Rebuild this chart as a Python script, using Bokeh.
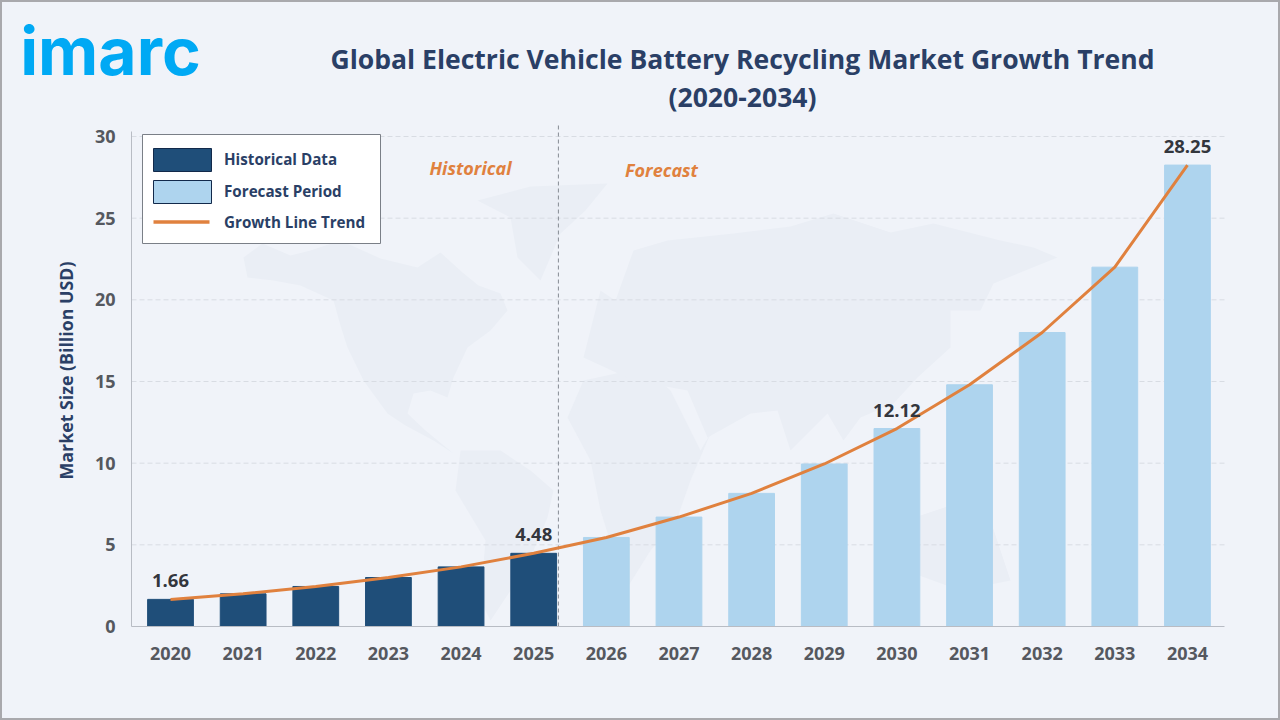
from bokeh.core.properties import value
from bokeh.embed import file_html
from bokeh.resources import INLINE
from bokeh.models import ColumnDataSource, FixedTicker, Label, Range1d
from bokeh.plotting import figure

YEARS = list(range(2020, 2035))
VALUES = [1.66, 2.0, 2.45, 3.0, 3.65, 4.48, 5.45, 6.7, 8.15, 9.95, 12.12, 14.8, 18.0, 22.0, 28.25]
HIST_YEARS = YEARS[:6]
HIST_VALUES = VALUES[:6]
FORE_YEARS = YEARS[6:]
FORE_VALUES = VALUES[6:]
LABEL_YEARS = [2020, 2025, 2030, 2034]
LABEL_VALUES = [1.66, 4.48, 12.12, 28.25]
Y_TICKS = [0, 5, 10, 15, 20, 25, 30]
TITLE_LINES = ["Global Electric Vehicle Battery Recycling Market Growth Trend", "(2020-2034)"]

# faint decorative world map backdrop, outlines sketched in picture pixels
MAP_XS = [
    [243, 262, 290, 310, 340, 380, 417, 440, 462, 478, 500, 507, 490, 467, 453, 447, 430, 413, 407,
     425, 453, 433, 405, 387, 363, 347, 340, 333, 300, 273, 247],
    [477, 530, 607, 585, 560, 540, 517, 510],
    [460, 500, 530, 553, 547, 533, 510, 490, 480, 485, 455],
    [567, 583, 620, 643, 670, 700, 710, 690, 677, 650, 625, 600, 590],
    [583, 600, 615, 633, 667, 733, 790, 833, 890, 933, 1000, 1033, 1057, 993, 980, 950, 950, 917,
     893, 860, 843, 827, 790, 777, 750, 707, 687, 633],
    [905, 950, 990, 1010, 960, 905],
]
MAP_YS = [
    [257, 243, 255, 250, 240, 258, 267, 252, 272, 285, 293, 310, 330, 347, 377, 397, 390, 393, 413,
     430, 453, 440, 425, 413, 380, 347, 325, 300, 285, 280, 277],
    [200, 186, 183, 210, 233, 280, 257, 217],
    [450, 450, 470, 490, 517, 550, 590, 620, 600, 540, 490],
    [417, 380, 372, 367, 390, 450, 433, 480, 517, 550, 590, 510, 460],
    [357, 290, 300, 250, 240, 233, 226, 213, 232, 223, 240, 247, 257, 283, 310, 310, 347, 377,
     403, 417, 440, 413, 450, 410, 413, 437, 390, 380],
    [520, 505, 520, 580, 590, 570],
]

BG = "#f0f3f9"
MAP = "#eaeef5"
DARK = "#1f4e79"
LIGHT = "#aed4ee"
ORANGE = "#e0813e"
NAVY = "#2a3f66"
GREY = "#55585f"
FONT = "Open Sans"

OFF = 2                      # page border width
W, H = 1280 - 2 * OFF, 720 - 2 * OFF
X_2020, PX_PER_YEAR = 170.0, 72.64
Y_ZERO, PX_PER_UNIT = 626.0, 490 / 30


def year_at(px):
    return 2020 + (px - X_2020) / PX_PER_YEAR


def val_at(py):
    return (Y_ZERO - py) / PX_PER_UNIT


def sx(x):
    return x - OFF


def sy(y):
    return 720 - OFF - y


# the frame fills the whole canvas so that annotations in the margins stay visible
p = figure(width=W, height=H, output_backend="svg", toolbar_location=None,
           x_range=Range1d(year_at(OFF), year_at(1280 - OFF)),
           y_range=Range1d(val_at(720 - OFF), val_at(OFF)),
           min_border=0, background_fill_color=BG, border_fill_color=BG, outline_line_color=None)

p.extra_x_ranges["px"] = Range1d(OFF, 1280 - OFF)
p.extra_y_ranges["px"] = Range1d(720 - OFF, OFF)
PX = dict(x_range_name="px", y_range_name="px")
p.patches(MAP_XS, MAP_YS, fill_color=MAP, line_color=None, level="image", **PX)

p.xaxis.ticker = FixedTicker(ticks=YEARS)
p.yaxis.ticker = FixedTicker(ticks=Y_TICKS)
p.xaxis.fixed_location = 0
p.yaxis.fixed_location = year_at(131)
p.xaxis.bounds = (year_at(131), year_at(1224))
p.yaxis.bounds = (0, 30.3)
p.xaxis.major_label_overrides = {y: str(y) for y in YEARS}
p.xaxis.major_label_standoff = 14
p.yaxis.major_label_standoff = 10
for ax in (p.xaxis[0], p.yaxis[0]):
    ax.axis_line_color = "#b8bcc4"
    ax.major_tick_line_color = None
    ax.minor_tick_line_color = None
    ax.major_label_text_font = FONT
    ax.major_label_text_font_style = "bold"
    ax.major_label_text_font_size = "18px"
    ax.major_label_text_color = GREY

# horizontal guides stop at the plot's right edge, so they are drawn as segments
p.grid.visible = False
grid_ticks = Y_TICKS[1:]
p.segment(x0=[year_at(131)] * len(grid_ticks), x1=[year_at(1224)] * len(grid_ticks),
          y0=grid_ticks, y1=grid_ticks, line_color="#d8dce3", line_dash="5 3", line_width=1,
          level="underlay")

hist = ColumnDataSource(dict(x=HIST_YEARS, top=HIST_VALUES))
fore = ColumnDataSource(dict(x=FORE_YEARS, top=FORE_VALUES))
p.vbar(x="x", top="top", bottom=0, width=0.63, color=DARK, source=hist)
p.vbar(x="x", top="top", bottom=0, width=0.63, color=LIGHT, source=fore)

# boundary between history and forecast
p.line(x=[2025.34, 2025.34], y=[0, val_at(122)], line_color="#868b93", line_dash="4 3", line_width=1)

p.line(YEARS, VALUES, line_color=ORANGE, line_width=3)

p.text(LABEL_YEARS, LABEL_VALUES, text=[f"{v:.2f}" for v in LABEL_VALUES],
       text_font=value(FONT), text_font_style="bold", text_font_size="18.5px", text_color="#33363d",
       text_align="center", text_baseline="bottom", y_offset=-12)


def label(cx, cy, text, size, color, font=FONT, style="bold", **kw):
    p.add_layout(Label(x=sx(cx), y=sy(cy), x_units="screen", y_units="screen", text=text,
                       text_font=font, text_font_style=style, text_font_size=size,
                       text_color=color, text_align=kw.pop("align", "center"),
                       text_baseline="middle", **kw))


label(470, 167, "Historical", "18px", ORANGE, style="bold italic")
label(661, 169, "Forecast", "18px", ORANGE, style="bold italic")

# legend block
p.quad(left=[142], right=[380], top=[134], bottom=[243], fill_color="#ffffff",
       line_color="#7a7f87", line_width=1, **PX)
p.quad(left=[153], right=[211], top=[148], bottom=[171], fill_color=DARK,
       line_color="#12294a", line_width=1, **PX)
p.quad(left=[153], right=[211], top=[180], bottom=[203], fill_color=LIGHT,
       line_color="#12294a", line_width=1, **PX)
p.line([153, 209], [221.5, 221.5], line_color=ORANGE, line_width=3.5, **PX)
for cy, text in ((158, "Historical Data"), (190, "Forecast Period"), (221, "Growth Line Trend")):
    label(223.5, cy, text, "15.2px", NAVY, align="left")

for i, line in enumerate(TITLE_LINES):
    label(742, 58 + i * 38, line, "26.55px", NAVY)

label(65, 370, "Market Size (Billion USD)", "17.8px", NAVY, angle=90, angle_units="deg")
label(110, 50, "imarc", "66px", "#00a9f4", font="Inter")

html = file_html(p, INLINE)
html = html.replace("</head>", "<style>html{background:#f0f3f9;height:100%;box-sizing:border-box;border:2px solid #a9a9ad}</style></head>", 1)
open("out.html", "w").write(html)
